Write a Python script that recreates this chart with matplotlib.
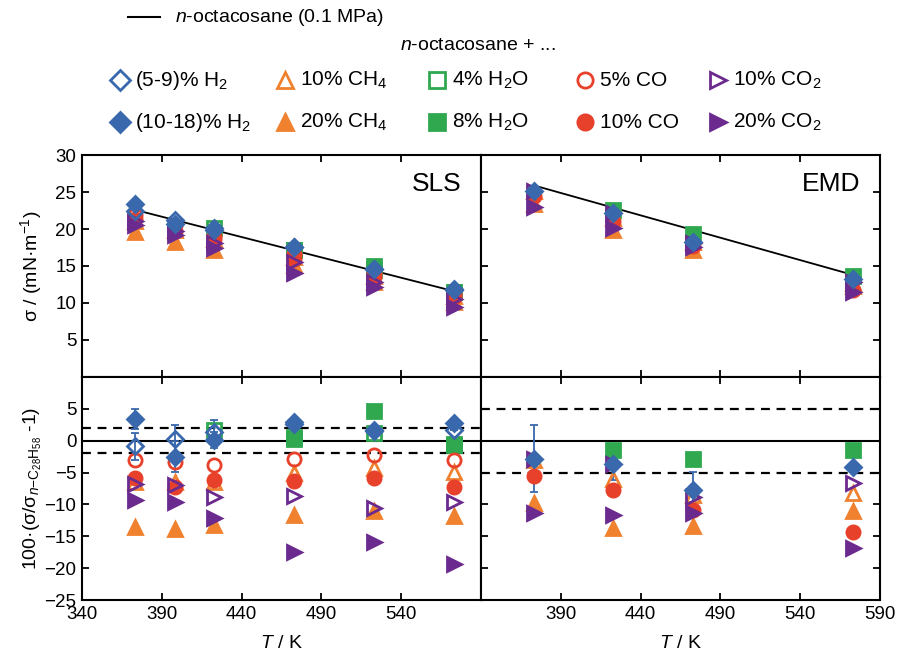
import matplotlib
matplotlib.use('Agg')
import matplotlib.pyplot as plt
from matplotlib.lines import Line2D

plt.rcParams['font.family'] = ['Liberation Sans Narrow', 'Liberation Sans', 'DejaVu Sans']
plt.rcParams['mathtext.fontset'] = 'custom'
plt.rcParams['mathtext.rm'] = 'Liberation Sans'
plt.rcParams['mathtext.it'] = 'Liberation Sans:italic'
plt.rcParams['mathtext.bf'] = 'Liberation Sans:bold'
plt.rcParams['font.size'] = 13

# temperatures (K)
T_sls = [373, 398, 423, 473, 523, 573]
T_sls_w4 = [423, 473, 523, 573]
T_sls_w8 = [473, 523, 573]
T_emd = [373, 423, 473, 573]
T_emd_w = [423, 473, 573]

# pure n-octacosane reference line (0.1 MPa)
T_ref = [373, 573]
sls_ref = [22.6, 11.6]
emd_ref = [25.9, 13.8]

# SLS surface tension (mN/m)
sls_h2_lo = [22.4, 21.2, 20.1, 17.5, 14.6, 11.8]
sls_h2_hi = [23.4, 20.7, 19.9, 17.6, 14.6, 11.9]
sls_ch4_lo = [21.1, 19.8, 18.6, 16.2, 13.7, 11.0]
sls_ch4_hi = [19.6, 18.3, 17.2, 15.1, 12.8, 10.2]
sls_h2o_lo = [20.2, 17.1, 14.5, 11.5]
sls_h2o_hi = [17.2, 15.0, 11.5]
sls_co_lo = [21.9, 20.5, 19.1, 16.6, 14.0, 11.2]
sls_co_hi = [21.3, 19.7, 18.6, 16.0, 13.5, 10.8]
sls_co2_lo = [21.1, 19.7, 18.1, 15.6, 12.8, 10.5]
sls_co2_hi = [20.5, 19.2, 17.4, 14.1, 12.1, 9.4]

# SLS deviations (%)
dsls_h2_lo = [-0.9, 0.2, 1.4, 2.6, 1.5, 1.7]
dsls_h2_lo_err = [2.1, 2.3, 1.8, 0, 0, 0]
dsls_h2_hi = [3.4, -2.5, 0.1, 3.0, 1.7, 2.8]
dsls_h2_hi_err = [1.6, 2.4, 1.3, 0, 0, 0]
dsls_ch4_lo = [-6.5, -6.5, -6.5, -5.1, -4.3, -4.9]
dsls_ch4_hi = [-13.5, -13.8, -13.2, -11.7, -11.1, -11.8]
dsls_h2o_lo = [1.7, 0.2, 1.2, -0.5]
dsls_h2o_hi = [0.6, 4.6, -0.7]
dsls_co_lo = [-3.0, -3.3, -3.8, -2.8, -2.2, -3.1]
dsls_co_hi = [-5.9, -7.2, -6.2, -6.4, -5.8, -7.3]
dsls_co2_lo = [-6.8, -7.0, -8.9, -8.7, -10.5, -9.6]
dsls_co2_hi = [-9.3, -9.6, -12.2, -17.4, -15.9, -19.4]

# EMD surface tension (mN/m)
emd_h2_hi = [25.2, 22.1, 18.3, 13.2]
emd_ch4_lo = [25.1, 21.5, 18.2, 12.7]
emd_ch4_hi = [23.4, 19.8, 17.2, 12.3]
emd_h2o_hi = [22.6, 19.3, 13.6]
emd_co_hi = [24.5, 21.1, 17.7, 11.8]
emd_co2_lo = [25.2, 22.1, 18.1, 12.9]
emd_co2_hi = [23.0, 20.2, 17.6, 11.5]

# EMD deviations (%)
demd_h2_hi = [-2.8, -3.6, -7.7, -4.1]
demd_h2_hi_err = [5.2, 2.5, 2.8, 0]
demd_ch4_lo = [-3.0, -6.0, -8.5, -8.2]
demd_ch4_hi = [-9.8, -13.7, -13.4, -11.0]
demd_h2o_hi = [-1.4, -2.8, -1.5]
demd_co_hi = [-5.5, -7.7, -10.9, -14.3]
demd_co2_lo = [-2.9, -3.6, -8.8, -6.6]
demd_co2_hi = [-11.4, -11.6, -11.4, -16.9]

blue = '#3a68ad'
orange = '#f0812f'
green = '#2fa84f'
red = '#e8412b'
purple = '#6b2a8e'

styles = {
    'h2_lo': ('D', blue, False, 8.5),
    'h2_hi': ('D', blue, True, 8.5),
    'ch4_lo': ('^', orange, False, 10.5),
    'ch4_hi': ('^', orange, True, 10.5),
    'h2o_lo': ('s', green, False, 9.5),
    'h2o_hi': ('s', green, True, 9.5),
    'co_lo': ('o', red, False, 9.5),
    'co_hi': ('o', red, True, 9.5),
    'co2_lo': ('>', purple, False, 10.5),
    'co2_hi': ('>', purple, True, 10.5),
}


def pts(ax, x, y, key, yerr=None):
    m, c, filled, ms = styles[key]
    fc = c if filled else 'none'
    if yerr is not None:
        ax.errorbar(x, y, yerr=yerr, fmt='none', ecolor=c, elinewidth=1.3,
                    capsize=3, capthick=1.3, zorder=3)
    ax.plot(x, y, ls='none', marker=m, ms=ms, mfc=fc, mec=c, mew=2, zorder=4)


fig = plt.figure(figsize=(9, 6.63), dpi=100)
x0, xm, x1 = 0.0911, 0.5344, 0.9778
yb, ym, yt = 0.0950, 0.4314, 0.7662
ax_tl = fig.add_axes([x0, ym, xm - x0, yt - ym])
ax_tr = fig.add_axes([xm, ym, x1 - xm, yt - ym])
ax_bl = fig.add_axes([x0, yb, xm - x0, ym - yb])
ax_br = fig.add_axes([xm, yb, x1 - xm, ym - yb])

# upper panels
ax_tl.plot(T_ref, sls_ref, color='black', lw=1.3, zorder=2)
pts(ax_tl, T_sls, sls_ch4_hi, 'ch4_hi')
pts(ax_tl, T_sls, sls_ch4_lo, 'ch4_lo')
pts(ax_tl, T_sls_w8, sls_h2o_hi, 'h2o_hi')
pts(ax_tl, T_sls_w4, sls_h2o_lo, 'h2o_lo')
pts(ax_tl, T_sls, sls_co_lo, 'co_lo')
pts(ax_tl, T_sls, sls_co_hi, 'co_hi')
pts(ax_tl, T_sls, sls_co2_lo, 'co2_lo')
pts(ax_tl, T_sls, sls_co2_hi, 'co2_hi')
pts(ax_tl, T_sls, sls_h2_lo, 'h2_lo')
pts(ax_tl, T_sls, sls_h2_hi, 'h2_hi')

ax_tr.plot(T_ref, emd_ref, color='black', lw=1.3, zorder=2)
pts(ax_tr, T_emd, emd_ch4_hi, 'ch4_hi')
pts(ax_tr, T_emd, emd_ch4_lo, 'ch4_lo')
pts(ax_tr, T_emd_w, emd_h2o_hi, 'h2o_hi')
pts(ax_tr, T_emd, emd_co_hi, 'co_hi')
pts(ax_tr, T_emd, emd_co2_lo, 'co2_lo')
pts(ax_tr, T_emd, emd_co2_hi, 'co2_hi')
pts(ax_tr, T_emd, emd_h2_hi, 'h2_hi')

# lower panels
ax_bl.axhline(0, color='black', lw=1.5, zorder=1)
ax_bl.axhline(2, color='black', lw=1.6, ls=(0, (4, 3)), zorder=1)
ax_bl.axhline(-2, color='black', lw=1.6, ls=(0, (4, 3)), zorder=1)
pts(ax_bl, T_sls, dsls_ch4_hi, 'ch4_hi')
pts(ax_bl, T_sls, dsls_ch4_lo, 'ch4_lo')
pts(ax_bl, T_sls_w8, dsls_h2o_hi, 'h2o_hi')
pts(ax_bl, T_sls_w4, dsls_h2o_lo, 'h2o_lo')
pts(ax_bl, T_sls, dsls_co_lo, 'co_lo')
pts(ax_bl, T_sls, dsls_co_hi, 'co_hi')
pts(ax_bl, T_sls, dsls_co2_lo, 'co2_lo')
pts(ax_bl, T_sls, dsls_co2_hi, 'co2_hi')
pts(ax_bl, T_sls, dsls_h2_lo, 'h2_lo', dsls_h2_lo_err)
pts(ax_bl, T_sls, dsls_h2_hi, 'h2_hi', dsls_h2_hi_err)

ax_br.axhline(0, color='black', lw=1.5, zorder=1)
ax_br.axhline(5, color='black', lw=1.6, ls=(0, (4, 3)), zorder=1)
ax_br.axhline(-5, color='black', lw=1.6, ls=(0, (4, 3)), zorder=1)
pts(ax_br, T_emd, demd_ch4_hi, 'ch4_hi')
pts(ax_br, T_emd, demd_ch4_lo, 'ch4_lo')
pts(ax_br, T_emd_w, demd_h2o_hi, 'h2o_hi')
pts(ax_br, T_emd, demd_co_hi, 'co_hi')
pts(ax_br, T_emd, demd_co2_lo, 'co2_lo')
pts(ax_br, T_emd, demd_co2_hi, 'co2_hi')
pts(ax_br, T_emd, demd_h2_hi, 'h2_hi', demd_h2_hi_err)

xt = [340, 390, 440, 490, 540, 590]
for ax in (ax_tl, ax_tr, ax_bl, ax_br):
    ax.set_xlim(340, 590)
    ax.set_xticks(xt)
    ax.tick_params(direction='in', top=True, right=True, length=5, width=1.3,
                   labelsize=13.5, pad=4)
    for s in ax.spines.values():
        s.set_linewidth(1.5)

for ax in (ax_tl, ax_tr):
    ax.set_ylim(0, 30)
    ax.set_yticks([5, 10, 15, 20, 25, 30])
    ax.tick_params(labelbottom=False)
for ax in (ax_bl, ax_br):
    ax.set_ylim(-25, 10)
    ax.set_yticks([-25, -20, -15, -10, -5, 0, 5])
    ax.set_xlabel('$T$ / K', fontsize=14, labelpad=9)
for ax in (ax_tr, ax_br):
    ax.tick_params(labelleft=False)
ax_tl.tick_params(right=False)
ax_bl.tick_params(right=False)
ax_bl.set_xticklabels(['340', '390', '440', '490', '540', ''])
ax_br.set_xticklabels(['', '390', '440', '490', '540', '590'])

ax_tl.set_ylabel('σ / (mN·m$^{-1}$)', fontsize=14)
ax_bl.set_ylabel(r'100·(σ/σ$_{n\mathrm{-C}_{28}\mathrm{H}_{58}}$ -1)', fontsize=14)
ax_tl.yaxis.set_label_coords(-0.095, 0.5)
ax_bl.yaxis.set_label_coords(-0.095, 0.5)

ax_tl.text(0.95, 0.87, 'SLS', transform=ax_tl.transAxes, ha='right', va='center', fontsize=19)
ax_tr.text(0.95, 0.87, 'EMD', transform=ax_tr.transAxes, ha='right', va='center', fontsize=19)

# legend header
fig.add_artist(Line2D([128 / 900, 160 / 900], [0.974, 0.974], color='black', lw=1.5,
                      transform=fig.transFigure))
fig.text(175 / 900, 0.974, '$n$-octacosane (0.1 MPa)', va='center', ha='left', fontsize=14)
fig.text(478 / 900, 0.931, '$n$-octacosane + ...', va='center', ha='center', fontsize=14)

leg_rows = [
    ['h2_lo', 'ch4_lo', 'h2o_lo', 'co_lo', 'co2_lo'],
    ['h2_hi', 'ch4_hi', 'h2o_hi', 'co_hi', 'co2_hi'],
]
leg_text = [
    ['(5-9)% H$_2$', '10% CH$_4$', '4% H$_2$O', '5% CO', '10% CO$_2$'],
    ['(10-18)% H$_2$', '20% CH$_4$', '8% H$_2$O', '10% CO', '20% CO$_2$'],
]
leg_x = [120, 285, 437, 585, 718]
leg_y = [1 - 80 / 663, 1 - 122 / 663]
for r in range(2):
    for c in range(5):
        m, col, filled, ms = styles[leg_rows[r][c]]
        fig.add_artist(Line2D([leg_x[c] / 900], [leg_y[r]], ls='none', marker=m, ms=ms + 1.5,
                              mfc=col if filled else 'none', mec=col, mew=2,
                              transform=fig.transFigure))
        fig.text((leg_x[c] + 15) / 900, leg_y[r], leg_text[r][c], va='center', ha='left',
                 fontsize=15)

fig.savefig('out.png', dpi=100)
